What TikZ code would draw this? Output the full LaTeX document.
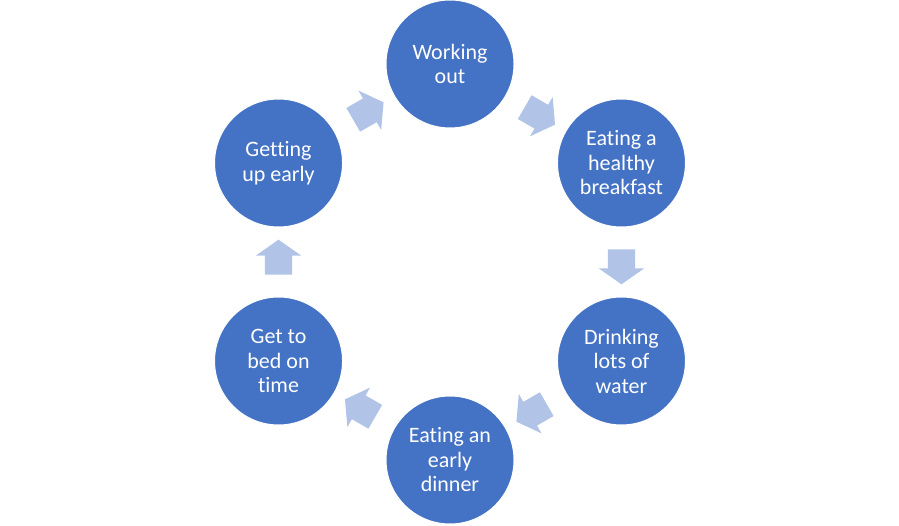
\documentclass[tikz,border=0pt]{standalone}
\usepackage{fontspec}
\setmainfont[RawFeature=-liga]{Carlito}
\usetikzlibrary{calc,shapes.arrows}
\definecolor{stageblue}{HTML}{4472C4}
\definecolor{flowblue}{HTML}{B1C3E6}

\begin{document}
\begin{tikzpicture}[x=1pt,y=1pt,
    stage/.style={circle, fill=stageblue, draw=white, line width=1pt,
      minimum size=128pt, text=white, align=center,
      font=\fontsize{22}{24.5}\selectfont},
    flow/.style={single arrow, fill=flowblue, draw=none,
      inner xsep=0pt, inner ysep=13.5pt, minimum height=35pt,
      single arrow head extend=9pt, single arrow tip angle=110}]
	    \useasboundingbox (0,0) rectangle (899,525);
	    \coordinate (c) at (450,263);
	    % stages of the routine
	    \foreach \ang/\name/\txt in {90/wo/{Working\\out},
	        30/eb/{Eating a\\healthy\\breakfast},
	        -30/dw/{Drinking\\lots of\\water},
	        -90/ed/{Eating an\\early\\dinner},
	        -150/gb/{Get to\\bed on\\time},
	        150/gu/{Getting\\up early}}
	        \node[stage] (\name) at ($(c)+(\ang:198)$) {\txt};
	    % arrows between stages
	    \foreach \a/\b/\dir in {wo/eb/-30, eb/dw/-90, dw/ed/-150,
	        ed/gb/150, gb/gu/90, gu/wo/30}
	        \node[flow, rotate=\dir] (f-\a) at ($(\a)!0.5!(\b)$) {};
\end{tikzpicture}
\end{document}
